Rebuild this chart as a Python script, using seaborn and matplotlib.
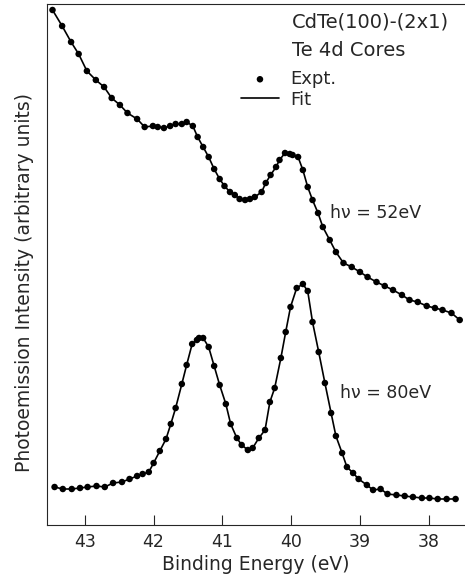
import numpy as np
import pandas as pd
import matplotlib
matplotlib.use("Agg")
import matplotlib.pyplot as plt
import seaborn as sns

# Binding energy (eV) and intensity (arbitrary units)
energy_52 = [43.47, 43.33, 43.20, 43.09, 42.97, 42.84, 42.72, 42.61, 42.49, 42.38,
             42.24, 42.13, 42.01, 41.94, 41.85, 41.76, 41.68, 41.59, 41.52, 41.43,
             41.36, 41.28, 41.20, 41.12, 41.04, 40.97, 40.89, 40.82, 40.75, 40.67,
             40.60, 40.53, 40.43, 40.37, 40.30, 40.22, 40.17, 40.09, 40.02, 39.98,
             39.90, 39.83, 39.76, 39.69, 39.61, 39.54, 39.44, 39.35, 39.24, 39.12,
             39.00, 38.89, 38.76, 38.64, 38.52, 38.39, 38.28, 38.16, 38.03, 37.91,
             37.80, 37.67, 37.55]
intensity_52 = [515, 499, 483, 471, 454, 445, 438, 427, 420, 412,
                406, 398, 399, 398, 397, 399, 401, 401, 403, 399,
                388, 378, 368, 356, 346, 339, 333, 330, 326, 325,
                326, 328, 333, 342, 350, 358, 365, 372, 371, 370,
                368, 355, 338, 325, 312, 298, 285, 273, 262, 258,
                253, 248, 243, 239, 235, 230, 225, 223, 219, 217,
                215, 212, 205]

energy_80 = [43.44, 43.32, 43.19, 43.07, 42.96, 42.83, 42.71, 42.59, 42.46, 42.35,
             42.24, 42.16, 42.07, 42.00, 41.91, 41.82, 41.75, 41.68, 41.59, 41.52,
             41.44, 41.37, 41.34, 41.28, 41.20, 41.12, 41.04, 40.95, 40.88, 40.79,
             40.72, 40.63, 40.56, 40.47, 40.38, 40.31, 40.24, 40.15, 40.08, 40.01,
             39.92, 39.83, 39.76, 39.69, 39.60, 39.51, 39.42, 39.35, 39.26, 39.19,
             39.10, 39.02, 38.90, 38.81, 38.70, 38.60, 38.47, 38.35, 38.23, 38.10,
             37.99, 37.87, 37.74, 37.61]
intensity_80 = [38, 36, 36, 37, 38, 39, 38, 42, 43, 46,
                49, 51, 53, 62, 74, 86, 101, 117, 141, 160,
                181, 185, 187, 187, 178, 159, 140, 121, 101, 87,
                80, 75, 77, 87, 95, 123, 137, 167, 193, 218,
                237, 241, 234, 203, 173, 142, 112, 89, 72, 58,
                52, 46, 40, 35, 36, 31, 30, 29, 28, 27,
                27, 26, 26, 26]

x_ticks = [43, 42, 41, 40, 39, 38]
series_labels = ["h\u03bd = 52eV", "h\u03bd = 80eV"]

df = pd.concat([
    pd.DataFrame({"E": energy_52, "I": intensity_52, "s": "52"}),
    pd.DataFrame({"E": energy_80, "I": intensity_80, "s": "80"}),
], ignore_index=True)

sns.set_style("ticks")
plt.rcParams["font.family"] = ["DejaVu Sans"]
plt.rcParams["font.size"] = 12

fig = plt.figure(figsize=(4.65, 5.75), dpi=100)
ax = fig.add_axes([47 / 465, 50 / 575, 1 - 47 / 465 - 0.001, 521 / 575])

first = True
for key, sub in df.groupby("s", sort=False):
    sns.lineplot(data=sub, x="E", y="I", sort=False, ax=ax, color="black",
                 linewidth=1.2, label="Fit" if first else None, legend=False)
    sns.scatterplot(data=sub, x="E", y="I", ax=ax, color="black", s=22,
                    edgecolor="none", label="Expt." if first else None, legend=False)
    first = False

ax.set_xlim(43.55, 37.48)
ax.set_ylim(0, 521)
ax.set_xticks(x_ticks)
ax.set_xticklabels([str(t) for t in x_ticks], fontsize=12.5)
ax.set_yticks([])
ax.tick_params(axis="x", direction="in", length=7, width=0.8, pad=6)
for side in ["left", "bottom", "top"]:
    ax.spines[side].set_linewidth(0.8)
ax.spines["right"].set_visible(False)

ax.set_xlabel("Binding Energy (eV)", fontsize=13.5, labelpad=3)
ax.set_ylabel("Photoemission Intensity (arbitrary units)", fontsize=13.5)
ax.yaxis.set_label_coords(-0.03, 0.466)


def px(x, y):
    return fig.transFigure.inverted().transform((x, 575 - y))


for (x, y, s, fs) in [(292, 22, "CdTe(100)-(2x1)", 14), (292, 50, "Te 4d Cores", 14),
                      (330, 213, series_labels[0], 12.5), (340, 393, series_labels[1], 12.5)]:
    fx, fy = px(x, y)
    fig.text(fx, fy, s, fontsize=fs, va="center", ha="left")

handles, labels = ax.get_legend_handles_labels()
order = [labels.index("Expt."), labels.index("Fit")]
bx, by = px(241, 70)
ax.legend([handles[i] for i in order], [labels[i] for i in order],
          loc="upper left", bbox_to_anchor=(bx, by), bbox_transform=fig.transFigure,
          frameon=False, fontsize=13, handlelength=2.1, handletextpad=0.65,
          labelspacing=0.15, borderpad=0, borderaxespad=0)

fig.savefig("out.png", dpi=100)
